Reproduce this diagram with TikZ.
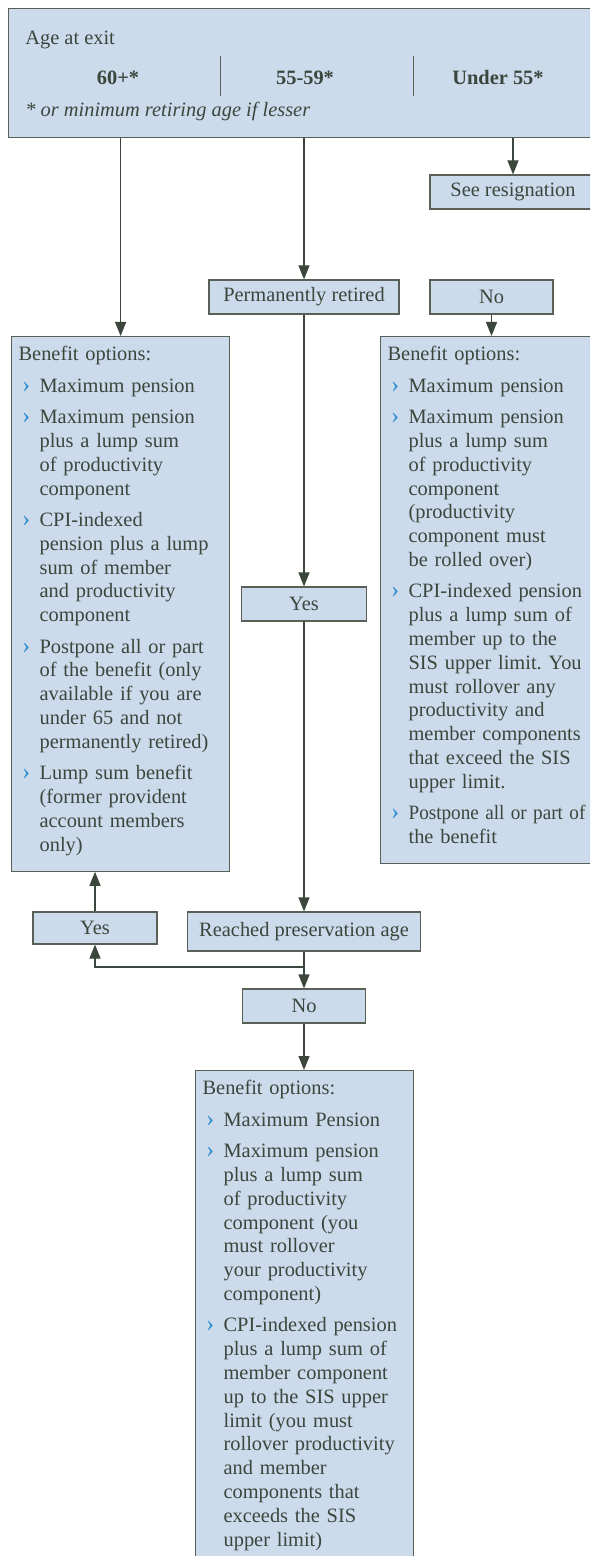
\documentclass[tikz,border=0pt]{standalone}
\usepackage{fontspec}
\setmainfont{Liberation Serif}
\usepackage{xcolor}
\usetikzlibrary{arrows.meta}

\definecolor{boxfill}{HTML}{CCDBEC}
\definecolor{boxline}{HTML}{5A6056}
\definecolor{inkgray}{HTML}{3B463C}
\definecolor{optblue}{HTML}{2A8CD2}

% line break inside one option, and one option with its chevron
\newcommand{\nl}{\hfil\break}
\newcommand{\opt}[1]{\par\vspace{3.8pt}\noindent\hangindent=10.5pt\hangafter=1%
  \makebox[10.5pt][l]{\hspace{1.8pt}\textcolor{optblue}{\scalebox{1.2}{›}}}#1\par}
\newcommand{\tailstrut}{\rule[-5pt]{0pt}{5pt}}

\begin{document}
\begin{tikzpicture}[x=0.5pt,y=-0.5pt]
		% Define styles for the boxes and arrows
		\tikzstyle{txt} = [text=inkgray, font=\fontsize{10.2}{11.9}\selectfont\frenchspacing, inner sep=0pt]
		\tikzstyle{block} = [txt, rectangle, draw=boxline, fill=boxfill, line width=0.6pt]
		\tikzstyle{choice} = [block, minimum height=17pt, text centered]
		\tikzstyle{options} = [block, anchor=north west, text width=102pt, inner xsep=3.5pt, inner ysep=5pt, align=left]
		\tikzstyle{arrow} = [draw=inkgray, line width=0.6pt, -{Triangle[length=7pt,width=5.5pt]}]

		\useasboundingbox (0,0) rectangle (590,1556);
		\clip (0,0) rectangle (590,1556);

		% Header with the three age groups
		\node (exit) [block, anchor=north west, minimum width=296pt, minimum height=64.5pt] at (8,8) {};
		\node (agelabel) [txt, anchor=west] at (25,40) {Age at exit};
		\node (age60) [txt] at (118,78) {\textbf{60+*}};
		\node (age55) [txt] at (305,78) {\textbf{55-59*}};
		\node (ageunder) [txt] at (498,78) {\textbf{Under 55*}};
		\node (lesser) [txt, anchor=west] at (25,111) {\textit{* or minimum retiring age if lesser}};
		\draw [boxline, line width=0.5pt] (220,56) -- (220,96);
		\draw [boxline, line width=0.5pt] (413,56) -- (413,96);

		% Define the small decision boxes
		\node (resign) [choice, minimum width=83pt] at (513,192) {See resignation};
		\node (retired) [choice, minimum width=95pt] at (304,297) {Permanently retired};
		\node (notretired) [choice, minimum width=61.5pt] at (491.5,297) {No};
		\node (yesretired) [choice, minimum width=62.5pt] at (304,604) {Yes};
		\node (yespres) [choice, minimum width=62pt, minimum height=16pt] at (95,928) {Yes};
		\node (reached) [choice, minimum width=116.5pt, minimum height=19.5pt] at (304,931.5) {Reached preservation age};
		\node (nopres) [choice, minimum width=61.5pt] at (304,1006) {No};
		\coordinate (split) at (304,967);

		% Benefit option boxes
		\node (opts60) [options] at (11,336) {Benefit options:
			\opt{Maximum pension}
			\opt{Maximum pension\nl plus a lump sum\nl of productivity\nl component}
			\opt{CPI-indexed\nl pension plus a lump\nl sum of member\nl and productivity\nl component}
			\opt{Postpone all or part\nl of the benefit (only\nl available if you are\nl under 65 and not\nl permanently retired)}
			\opt{Lump sum benefit\nl (former provident\nl account members\nl only)\tailstrut}};
		\node (optsnot) [options] at (380,336) {Benefit options:
			\opt{Maximum pension}
			\opt{Maximum pension\nl plus a lump sum\nl of productivity\nl component\nl (productivity\nl component must\nl be rolled over)}
			\opt{CPI-indexed pension\nl plus a lump sum of\nl member up to the\nl SIS upper limit. You\nl must rollover any\nl productivity and\nl member components\nl that exceed the SIS\nl upper limit.}
			\opt{\scalebox{0.94}[1]{Postpone all or part of}\nl the benefit\tailstrut}};
		\node (optspres) [options] at (195,1070) {Benefit options:
			\opt{Maximum Pension}
			\opt{Maximum pension\nl plus a lump sum\nl of productivity\nl component (you\nl must rollover\nl your productivity\nl component)}
			\opt{CPI-indexed pension\nl plus a lump sum of\nl member component\nl up to the SIS upper\nl limit (you must\nl rollover productivity\nl and member\nl components that\nl exceeds the SIS\nl upper limit)\tailstrut}
			\vspace{20pt}};

		% Draw arrows between the boxes
		\draw [arrow] (exit.south -| opts60.north) -- (opts60.north);
		\draw [arrow] (exit.south -| retired) -- (retired);
		\draw [arrow] (exit.south -| resign) -- (resign);
		\draw [arrow] (notretired) -- (notretired |- optsnot.north);
		\draw [arrow] (retired) -- (yesretired);
		\draw [arrow] (yesretired) -- (reached);
		\draw [arrow] (reached) -- (nopres);
		\draw [arrow] (nopres) -- (nopres |- optspres.north);
		\draw [arrow] (split) -| (yespres);
		\draw [arrow] (yespres) -- (yespres |- opts60.south);
	\end{tikzpicture}
\end{document}
